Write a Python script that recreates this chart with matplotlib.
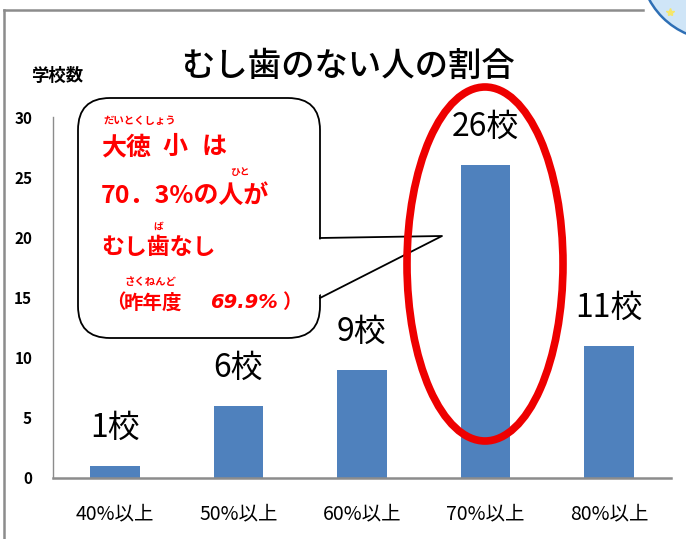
import matplotlib
matplotlib.use("Agg")
import matplotlib.pyplot as plt
import matplotlib.transforms as mtransforms
from matplotlib.patches import FancyBboxPatch, Polygon, Ellipse, Circle
from matplotlib.lines import Line2D

plt.rcParams['font.family'] = ['Noto Sans CJK JP', 'DejaVu Sans']

# ---- data ----
categories = ['40%以上', '50%以上', '60%以上', '70%以上', '80%以上']
counts = [1, 6, 9, 26, 11]
bar_labels = [f'{c}校' for c in counts]
yticks = [0, 5, 10, 15, 20, 25, 30]
title = 'むし歯のない人の割合'
ylabel = '学校数'

W, H = 686, 539
fig = plt.figure(figsize=(W / 100, H / 100), dpi=100)
# pixel transform (origin top-left)
T = mtransforms.Affine2D().scale(1 / W, -1 / H).translate(0, 1) + fig.transFigure

ax = fig.add_axes([53 / W, (H - 478) / H, 618 / W, 361 / H])
x = list(range(len(categories)))
ax.bar(x, counts, width=0.4, color='#4F81BD', zorder=2)
ax.set_xlim(-0.5, 4.5)
ax.set_ylim(0, 30)
ax.set_yticks(yticks)
ax.set_yticklabels([str(v) for v in yticks], fontsize=11, fontweight='bold')
ax.set_xticks(x)
ax.set_xticklabels(categories, fontsize=14)
ax.tick_params(axis='both', length=0)
ax.tick_params(axis='y', pad=15)
ax.tick_params(axis='x', pad=18)
for s in ['top', 'right']:
    ax.spines[s].set_visible(False)
ax.spines['left'].set_color('#8c8c8c')
ax.spines['left'].set_linewidth(1.0)
ax.spines['bottom'].set_color('#8c8c8c')
ax.spines['bottom'].set_linewidth(1.8)

for xi, c, lab in zip(x, counts, bar_labels):
    ax.annotate(lab, (xi, c), xytext=(0, 27.5), textcoords='offset points',
                ha='center', va='center', fontsize=23)

# title and y label
fig.text(348, 66, title, transform=T, ha='center', va='center', fontsize=24, fontweight='medium')
fig.text(31, 76, ylabel, transform=T, ha='left', va='center', fontsize=12.5, fontweight='bold')

# frame lines
fig.add_artist(Line2D([4, 643], [10, 10], transform=T, color='#8c8c8c', lw=1.8))
fig.add_artist(Line2D([4, 4], [10, 539], transform=T, color='#8c8c8c', lw=1.8))

# decorative blue shape top-right (mostly off-canvas)
fig.add_artist(Circle((717, -37), 77, transform=T, facecolor='#cfe5f7',
                      edgecolor='#2e6fb5', lw=1.8, zorder=3))
fig.add_artist(Line2D([670], [12], transform=T, marker='*', color='#f5e66a', markersize=6, lw=0, zorder=4))

# speech bubble
fig.add_artist(FancyBboxPatch((78, 98), 242, 240, boxstyle='round,pad=0,rounding_size=32',
                              transform=T, facecolor='white', edgecolor='black', lw=1.3, zorder=5))
fig.add_artist(Polygon([(316, 239.5), (442, 236), (316, 296.5)], closed=True, transform=T,
                       facecolor='white', edgecolor='none', zorder=6))
fig.add_artist(Line2D([320, 442, 320], [238, 236, 298], transform=T, color='black', lw=1.3, zorder=7))

red = '#ff0000'
def rt(xp, yp, s, size, **kw):
    fig.text(xp, yp, s, transform=T, ha=kw.pop('ha', 'left'), va='center', fontsize=size,
             color=red, fontweight=kw.pop('fontweight', 'bold'), zorder=8, **kw)

rt(103, 121, 'だいとくしょう', 7.5)
rt(101, 147, '大徳', 18)
rt(162, 147, '小', 18)
rt(202, 147, 'は', 18)
rt(240, 172, 'ひと', 7, ha='center')
rt(101, 196, '70．3%の人が', 18)
rt(158, 227, 'ば', 7, ha='center')
rt(101, 247, 'むし歯なし', 16.5)
rt(150, 282, 'さくねんど', 7.5, ha='center')
rt(106, 303, '（', 14)
rt(124, 303, '昨年度', 14)
fig.text(210, 303, '69.9%', transform=T, ha='left', va='center', fontsize=14, color=red,
         fontweight='bold', fontstyle='oblique', family='DejaVu Sans', zorder=8)
rt(282, 303, '）', 14)

# red ellipse
fig.add_artist(Ellipse((485, 264), 156, 354, transform=T, fill=False, edgecolor='#ee0000', lw=5.5, zorder=9))

fig.savefig('out.png', dpi=100)
